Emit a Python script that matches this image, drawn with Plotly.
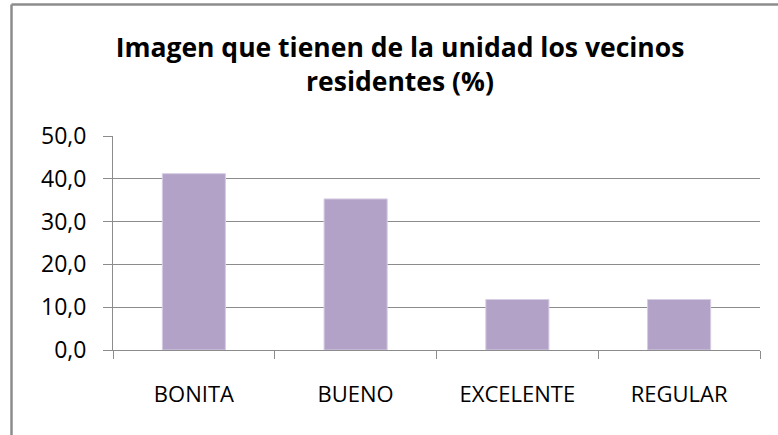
import plotly.graph_objects as go

categories = ["BONITA", "BUENO", "EXCELENTE", "REGULAR"]
values = [41.2, 35.3, 11.8, 11.8]
y_ticks = [0, 10, 20, 30, 40, 50]

W, H = 778, 435
L, R, T, B = 113, 18, 136, 85
pw, ph = W - L - R, H - T - B

fig = go.Figure(go.Bar(
    x=categories, y=values,
    marker=dict(color="#b2a2c7", line=dict(color="#d6cce3", width=1)),
    width=0.39,
))

font_family = "Open Sans, Liberation Sans, sans-serif"
grid = "#8c8c8c"

bx = (11.5 - L) / pw
bx_end = (W - L) / pw
by = (H - B - 4.5) / ph
by_end = -B / ph

fig.update_layout(
    width=W, height=H,
    margin=dict(l=L, r=R, t=T, b=B),
    paper_bgcolor="white", plot_bgcolor="white",
    separators=",.",
    showlegend=False,
    title=dict(
        text="<b>Imagen que tienen de la unidad los vecinos<br>residentes (%)</b>",
        x=400 / W, xanchor="center", xref="container",
        y=1 - 57 / H, yanchor="top", yref="container",
        font=dict(family=font_family, size=26.5, color="#000000"),
    ),
    font=dict(family=font_family, size=22, color="#000000"),
    xaxis=dict(
        showline=True, linecolor=grid, linewidth=1,
        ticks="outside", ticklen=8, tickcolor=grid, tickson="boundaries",
        showgrid=False, tickfont=dict(size=22), ticklabelstandoff=25,
    ),
    yaxis=dict(
        range=[0, 50], tickvals=y_ticks, tickformat=".1f",
        showline=True, linecolor=grid, linewidth=1,
        ticks="outside", ticklen=9, tickcolor=grid,
        showgrid=True, gridcolor=grid, gridwidth=1,
        zeroline=False, tickfont=dict(size=23), ticklabelstandoff=12,
    ),
    shapes=[
        dict(type="line", xref="paper", yref="paper", x0=bx, x1=bx, y0=by_end, y1=by,
             line=dict(color="#8c8c8c", width=2.5)),
        dict(type="line", xref="paper", yref="paper", x0=bx, x1=bx_end, y0=by, y1=by,
             line=dict(color="#8c8c8c", width=2.5)),
    ],
)

fig.write_html(
    "out.html",
    config={"displayModeBar": False},
    post_script="document.body.style.margin='0';document.body.style.overflow='hidden';",
)
